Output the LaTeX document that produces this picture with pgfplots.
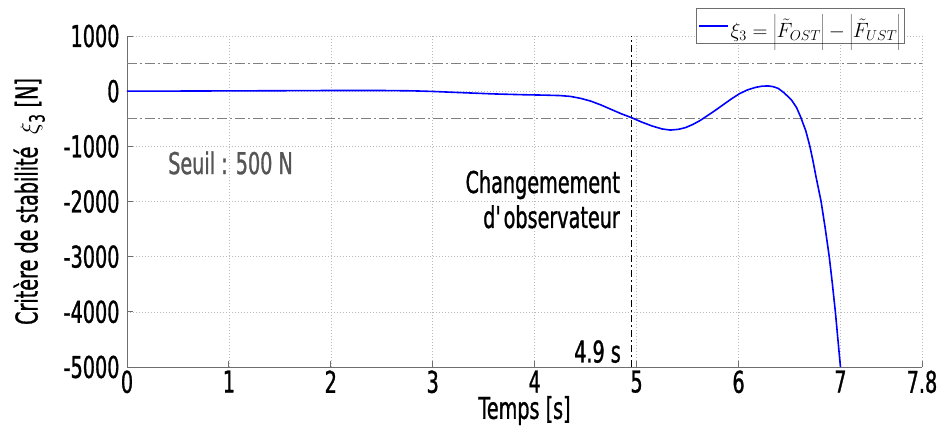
\documentclass[border=0pt]{standalone}
\usepackage{fontspec}
\setmainfont{DejaVu Sans}[FakeStretch=0.64, FakeBold=1]
\usepackage{pgfplots}
\pgfplotsset{compat=1.18}
\definecolor{axgray}{RGB}{110,110,110}
\definecolor{gridgray}{RGB}{185,185,185}
\definecolor{seuilgray}{RGB}{128,128,128}
\definecolor{textgray}{RGB}{85,85,85}
\begin{document}
\begin{tikzpicture}[font=\fontsize{30bp}{35bp}\selectfont]
\begin{axis}[
    scale only axis,
    width=795bp, height=331bp,
    xmin=0, xmax=7.8,
    ymin=-5000, ymax=1000,
    xtick={0,1,2,3,4,5,6,7,7.8},
    ytick={-5000,-4000,-3000,-2000,-1000,0,1000},
    /pgf/number format/assume math mode=true,
    /pgf/number format/1000 sep={},
    axis lines=left,
    axis line style={-, axgray, line width=0.9bp},
    tick style={axgray, line width=0.9bp},
    tick align=inside,
    major tick length=6bp,
    grid=major,
    grid style={dash pattern=on 1bp off 2bp, gridgray, line width=0.6bp},
    xlabel={Temps [s]},
    ylabel={Critère de stabilité\ \ $\xi$\textsubscript{3} [N]},
    xlabel style={yshift=4bp},
    ylabel style={yshift=12bp},
    yticklabel style={xshift=-4bp},
    legend style={at={(0.9786,1.0837)}, anchor=north east,
        draw=axgray, line width=0.9bp, fill=white,
        font=\fontsize{19bp}{22bp}\selectfont,
        inner xsep=2bp, inner ysep=2bp},
    legend cell align=left,
    legend image code/.code={\draw[blue, line width=1.6bp] (0bp,0bp) -- (29bp,0bp);},
]
\addplot[seuilgray, dash pattern=on 10bp off 3bp on 2bp off 3bp, line width=1.3bp, forget plot] coordinates {(0,500) (7.8,500)};
\addplot[seuilgray, dash pattern=on 10bp off 3bp on 2bp off 3bp, line width=1.3bp, forget plot] coordinates {(0,-500) (7.8,-500)};
\addplot[black, dash pattern=on 7bp off 3bp on 2bp off 3bp, line width=1bp, forget plot] coordinates {(4.95,-5000) (4.95,1000)};
\addplot[blue, line width=1.6bp] coordinates {
    (0,0) (0.5,2) (1.0,5) (1.5,8) (2.0,12) (2.5,12) (2.8,6) (3.0,-5)
    (3.3,-28) (3.6,-50) (3.9,-65) (4.1,-72) (4.25,-80) (4.35,-95)
    (4.45,-130) (4.55,-180) (4.65,-250) (4.75,-330) (4.85,-410)
    (4.95,-480) (5.05,-560) (5.15,-630) (5.25,-685) (5.33,-705)
    (5.41,-692) (5.48,-660) (5.55,-605) (5.62,-535) (5.69,-450)
    (5.77,-350) (5.85,-245) (5.93,-140) (6.01,-45) (6.09,25) (6.17,70)
    (6.23,90) (6.29,95) (6.34,82) (6.39,50) (6.45,-35) (6.52,-160)
    (6.57,-300) (6.61,-470) (6.66,-720) (6.70,-1000) (6.73,-1260)
    (6.76,-1550) (6.81,-2000) (6.85,-2480) (6.89,-3000) (6.92,-3480)
    (6.95,-4000) (6.975,-4500) (7.0,-5000)
};
\addlegendentry{$\xi_3 = \left|\rule[-13bp]{0bp}{38bp}\tilde{F}_{OST}\right| - \left|\rule[-13bp]{0bp}{38bp}\tilde{F}_{UST}\right|$}
\node[anchor=west, text=textgray] at (axis cs:0.37,-1300) {Seuil : 500 N};
\node[anchor=east, align=right] at (axis cs:4.87,-1960) {Changemement\\d\textquotesingle observateur};
\node[anchor=east] at (axis cs:4.88,-4720) {4.9 s};
\end{axis}
\pgfresetboundingbox
\path (-127bp,-69bp) rectangle (813bp,367bp);
\end{tikzpicture}
\end{document}
